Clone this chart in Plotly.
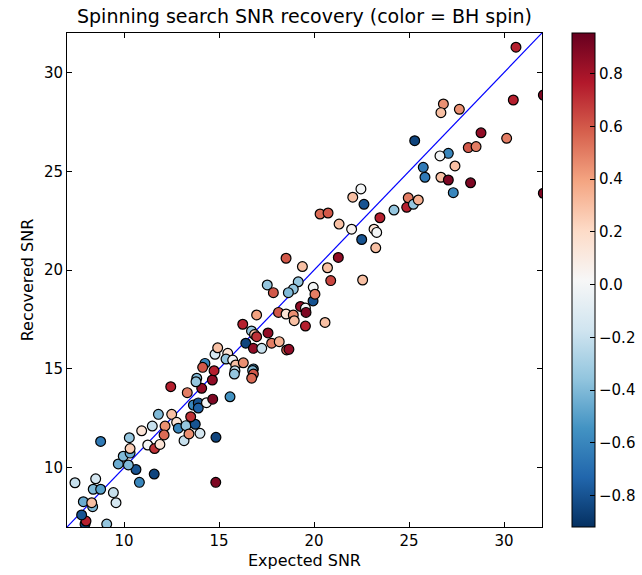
import plotly.graph_objects as go

# Expected SNR, Recovered SNR, BH spin
expected_snr = [
    7.95, 8.00, 7.77, 9.09, 8.35, 7.86, 8.30, 9.58, 9.44, 8.38,
    8.77, 8.51, 7.42, 10.81, 11.59, 10.63, 10.23, 9.70, 9.96, 10.32,
    10.32, 10.28, 8.77, 11.25, 11.61, 11.89, 10.93, 11.49, 11.81, 12.51,
    12.16, 12.11, 12.77, 12.86, 13.26, 13.16, 13.42, 14.00, 13.75, 14.84,
    13.51, 12.46, 13.33, 13.65, 13.91, 13.91, 14.34, 14.67, 15.58, 14.09,
    14.65, 13.83, 13.79, 14.26, 14.14, 14.74, 14.83, 14.79, 14.93, 15.46,
    15.37, 15.72, 15.88, 16.28, 15.84, 15.81, 16.81, 16.77, 16.81, 16.72,
    16.41, 16.81, 17.25, 17.77, 18.17, 18.56, 18.68, 16.25, 16.71, 16.87,
    16.98, 17.58, 16.98, 18.13, 18.53, 18.91, 18.96, 19.29, 19.55, 19.58,
    19.95, 19.55, 20.58, 19.96, 20.05, 19.17, 18.91, 18.65, 17.54, 17.86,
    18.53, 19.39, 20.71, 21.28, 20.88, 22.56, 22.51, 21.98, 23.16, 23.30,
    23.25, 23.47, 21.32, 20.32, 20.74, 22.47, 22.04, 22.63, 24.21, 24.88,
    24.96, 25.23, 25.49, 25.75, 25.84, 26.68, 27.07, 27.42, 28.24, 27.33,
    27.07, 26.63, 25.30, 28.12, 28.53, 28.79, 30.14, 26.81, 26.68, 27.65,
    30.49, 30.63, 32.07, 32.07,
]
recovered_snr = [
    7.15, 7.30, 7.61, 7.15, 8.03, 8.28, 8.23, 8.23, 8.74, 8.91,
    8.91, 9.44, 9.24, 9.26, 9.68, 9.91, 10.14, 10.19, 10.58, 10.74,
    10.97, 11.52, 11.33, 11.15, 10.97, 11.18, 11.87, 12.11, 12.70, 12.70,
    12.11, 11.66, 12.30, 12.00, 12.13, 11.37, 11.71, 11.74, 12.20, 11.54,
    12.58, 14.10, 13.80, 13.17, 13.28, 13.02, 13.29, 13.47, 13.59, 14.02,
    14.44, 14.53, 14.35, 15.28, 15.08, 14.91, 9.26, 15.74, 16.07, 15.79,
    15.50, 15.45, 15.20, 15.31, 14.91, 14.74, 15.00, 14.92, 14.74, 14.53,
    16.30, 16.04, 16.04, 16.30, 16.38, 15.96, 15.99, 17.26, 16.92, 16.74,
    16.63, 16.82, 17.73, 17.86, 17.78, 17.73, 17.44, 18.16, 18.08, 17.86,
    18.44, 17.17, 17.35, 19.13, 18.78, 19.41, 19.04, 18.86, 19.25, 18.86,
    20.60, 20.18, 20.12, 20.64, 19.47, 19.50, 21.55, 22.07, 22.07, 21.91,
    21.13, 22.65, 22.33, 22.84, 22.89, 24.11, 23.69, 23.33, 23.04, 23.18,
    23.66, 23.33, 23.55, 25.20, 24.70, 24.70, 24.56, 25.27, 24.42, 23.92,
    25.91, 25.78, 26.55, 26.20, 26.25, 26.95, 26.67, 28.41, 27.97, 28.14,
    28.61, 31.28, 28.86, 23.89,
]
bh_spin = [
    -0.85, 0.75, -0.80, -0.35, -0.40, -0.45, 0.30, -0.15, -0.20, -0.40,
    -0.50, -0.15, -0.20, -0.60, -0.85, -0.80, -0.40, -0.45, -0.40, -0.45,
    0.25, -0.35, -0.65, 0.00, 0.70, 0.15, 0.15, -0.20, -0.40, 0.30,
    0.45, 0.55, 0.15, -0.60, -0.35, -0.20, 0.45, -0.15, -0.80, -0.85,
    0.70, 0.75, 0.50, -0.60, -0.80, -0.75, 0.00, 0.90, -0.55, 0.85,
    0.85, -0.40, -0.35, -0.60, 0.60, 0.75, 0.90, -0.15, 0.30, 0.15,
    -0.35, 0.00, 0.30, 0.45, -0.20, -0.35, -0.60, -0.40, 0.60, 0.55,
    -0.85, 0.85, -0.20, 0.50, 0.35, 0.55, 0.85, 0.75, -0.35, 0.30,
    0.70, 0.85, 0.40, 0.60, 0.15, 0.45, 0.30, 0.85, 0.00, 0.90,
    -0.80, 0.75, 0.30, 0.00, 0.50, -0.35, -0.35, -0.40, -0.35, 0.60,
    0.60, 0.30, 0.30, 0.85, 0.65, 0.30, -0.80, 0.05, 0.15, 0.00,
    0.30, 0.75, 0.30, 0.55, 0.60, 0.00, 0.30, -0.80, -0.35, 0.75,
    0.50, -0.35, 0.35, -0.65, -0.65, 0.30, 0.90, 0.30, 0.90, -0.60,
    -0.60, 0.00, -0.85, 0.60, 0.50, 0.85, 0.50, 0.45, 0.30, 0.45,
    0.75, 0.75, 0.90, 0.90,
]

axis_range = [7, 32]
line_x = [7, 32]
axis_ticks = [10, 15, 20, 25, 30]
cbar_ticks = [-0.8, -0.6, -0.4, -0.2, 0.0, 0.2, 0.4, 0.6, 0.8]
spin_range = [-0.92, 0.955]

rdbu_r = ['#053061', '#2166ac', '#4393c3', '#92c5de', '#d1e5f0', '#f7f7f7',
          '#fddbc7', '#f4a582', '#d6604d', '#b2182b', '#67001f']
colorscale = [[i / (len(rdbu_r) - 1), c] for i, c in enumerate(rdbu_r)]

font = "DejaVu Sans"

fig = go.Figure()
fig.add_trace(go.Scatter(
    x=line_x, y=line_x, mode="lines",
    line=dict(color="#0000ff", width=1.2), showlegend=False, hoverinfo="skip",
))
fig.add_trace(go.Scatter(
    x=expected_snr, y=recovered_snr, mode="markers", showlegend=False,
    marker=dict(
        size=9.8, color=bh_spin, colorscale=colorscale,
        cmin=spin_range[0], cmax=spin_range[1],
        line=dict(color="black", width=1.2),
        colorbar=dict(
            x=1.063, xanchor="left", xref="paper", y=0.5, yanchor="middle",
            len=1, lenmode="fraction", thickness=23, xpad=0, ypad=0,
            outlinecolor="black", outlinewidth=1,
            tickvals=cbar_ticks, tickformat=".1f",
            ticks="inside", ticklen=5, tickcolor="black",
            tickfont=dict(family=font, size=15, color="black"),
        ),
    ),
    cliponaxis=True,
))

axis_common = dict(
    range=axis_range, tickvals=axis_ticks, ticks="inside", ticklen=5,
    tickcolor="black", showline=True, linecolor="black", linewidth=1,
    mirror="allticks", showgrid=False, zeroline=False,
    tickfont=dict(family=font, size=15, color="black"),
)

fig.update_layout(
    width=642, height=575,
    margin=dict(l=67, r=100, t=33, b=48, autoexpand=False),
    paper_bgcolor="white", plot_bgcolor="white",
    title=dict(
        text="Spinning search SNR recovery (color = BH spin)",
        font=dict(family=font, size=19, color="black"),
        x=0.5, xref="paper", xanchor="center",
        y=1 - 16 / 575, yref="container", yanchor="middle",
    ),
    xaxis=dict(axis_common, title=dict(text="Expected SNR", standoff=5,
               font=dict(family=font, size=16, color="black"))),
    yaxis=dict(axis_common, title=dict(text="Recovered SNR", standoff=6,
               font=dict(family=font, size=16, color="black"))),
)

fig.write_html("out.html")
